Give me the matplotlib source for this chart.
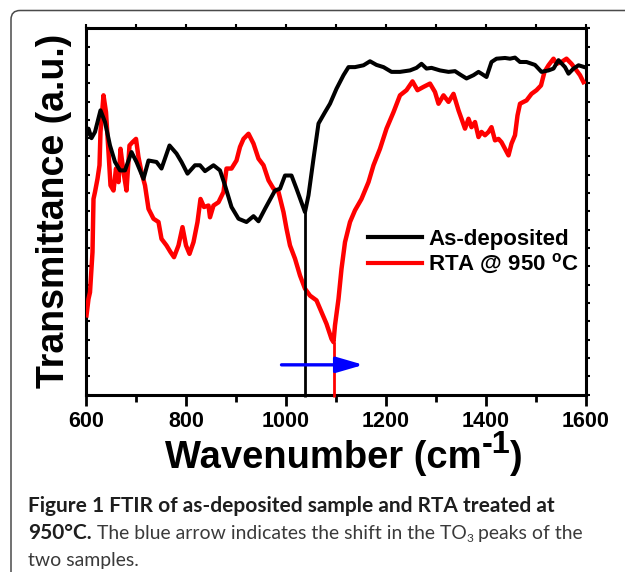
import matplotlib
matplotlib.use('Agg')
import matplotlib.pyplot as plt
from matplotlib.patches import FancyBboxPatch
from matplotlib.transforms import IdentityTransform
from matplotlib.lines import Line2D

W, H, DPI = 625, 572, 100

plt.rcParams['font.family'] = ['Liberation Sans', 'DejaVu Sans']
plt.rcParams['mathtext.fontset'] = 'custom'
plt.rcParams['mathtext.rm'] = 'Liberation Sans'
plt.rcParams['mathtext.bf'] = 'Liberation Sans:bold'

# ---------------- data ----------------
black_x = [601, 605, 611, 618, 629, 638, 648, 658, 668, 678, 691, 701, 715, 725, 741, 751,
           767, 781, 791, 803, 818, 828, 838, 855, 868, 878, 891, 905, 921, 935, 945, 958,
           978, 988, 998, 1011, 1021, 1038, 1045, 1055, 1065, 1078, 1088, 1101, 1115, 1125,
           1138, 1155, 1168, 1181, 1195, 1211, 1228, 1248, 1261, 1271, 1281, 1291, 1308,
           1325, 1338, 1348, 1361, 1375, 1385, 1391, 1401, 1411, 1421, 1438, 1448, 1458,
           1468, 1481, 1498, 1511, 1525, 1535, 1545, 1558, 1565, 1575, 1585, 1597]
black_y = [70.8, 72.6, 70.0, 71.7, 77.6, 74.4, 68.0, 63.5, 61.2, 61.2, 66.2, 63.5, 58.9, 63.9, 63.5, 61.7,
           68.0, 65.8, 63.5, 60.3, 62.6, 62.6, 61.0, 62.6, 61.2, 57.1, 51.2, 48.0, 47.1, 48.7, 47.3, 50.7,
           55.7, 56.2, 59.8, 59.8, 56.2, 49.8, 54.4, 64.4, 74.0, 77.1, 79.4, 83.5, 87.2, 89.4,
           89.4, 89.9, 91.0, 90.0, 89.4, 88.1, 88.1, 88.5, 89.2, 90.3, 89.0, 89.2, 88.5,
           88.1, 88.3, 87.4, 86.3, 87.2, 88.1, 87.6, 86.7, 90.8, 91.7, 91.9, 91.7, 92.0,
           90.8, 90.8, 90.0, 88.1, 88.5, 89.0, 91.3, 89.4, 87.6, 89.0, 89.9, 89.4]

red_x = [601, 605, 608, 613, 615, 618, 623, 627, 629, 635, 640, 645, 649, 655, 660, 665,
         669, 675, 681, 687, 693, 700, 705, 711, 718, 725, 735, 745, 751, 761, 769, 776,
         785, 793, 800, 807, 815, 823, 829, 836, 845, 848, 855, 865, 875, 881, 891, 901,
         908, 915, 925, 935, 945, 955, 965, 975, 985, 995, 1001, 1008, 1018, 1028, 1038,
         1048, 1061, 1071, 1081, 1091, 1095, 1098, 1105, 1111, 1118, 1128, 1138, 1151,
         1165, 1175, 1188, 1201, 1215, 1228, 1241, 1253, 1263, 1275, 1288, 1298, 1305,
         1315, 1325, 1335, 1345, 1351, 1358, 1365, 1371, 1378, 1385, 1391, 1398, 1405,
         1411, 1418, 1425, 1431, 1438, 1445, 1451, 1458, 1463, 1468, 1475, 1481, 1491,
         1501, 1510, 1517, 1525, 1535, 1541, 1551, 1561, 1571, 1581, 1588, 1595]
red_y = [21.6, 26.1, 27.9, 38.9, 53.4, 55.3, 58.9, 62.6, 71.7, 81.7, 77.1, 66.2, 57.1, 55.7, 61.7, 58.0,
         67.1, 60.7, 55.7, 68.0, 68.9, 69.8, 64.8, 60.7, 57.1, 50.7, 48.0, 47.1, 42.5, 40.7, 38.9, 37.5,
         40.7, 45.7, 40.7, 38.4, 41.6, 47.1, 53.4, 51.2, 51.6, 48.4, 51.6, 52.5, 55.3, 61.7, 61.7, 63.9,
         67.6, 69.8, 71.2, 68.5, 64.4, 62.6, 58.5, 56.2, 55.3, 49.8, 45.3, 40.7, 37.1, 32.5, 28.9,
         27.0, 25.7, 22.5, 19.3, 15.2, 14.3, 18.9, 26.1, 34.3, 41.6, 47.1, 50.3, 53.4,
         58.0, 62.6, 67.1, 72.6, 77.1, 81.7, 83.1, 85.5, 83.1, 84.0, 84.9, 82.6, 79.4,
         81.7, 79.9, 82.1, 77.6, 75.3, 72.6, 75.3, 73.0, 74.4, 70.3, 71.7, 70.8, 71.7,
         73.0, 69.4, 69.8, 68.9, 67.1, 65.3, 68.5, 70.8, 76.2, 79.4, 79.9, 80.3, 82.1,
         83.1, 84.4, 88.1, 89.9, 91.7, 90.3, 90.8, 91.7, 90.3, 88.5, 87.2, 85.3]

series_labels = ['As-deposited', r'RTA @ 950 $^{\mathbf{o}}$C']
series_colors = ['#000000', '#ff0000']
peak_x = [1038, 1095]          # TO3 peak positions
peak_y = [49.8, 14.3]
arrow_x = [991, 1155]          # blue shift arrow (start, end)
arrow_level = 8.1
xtick_values = [600, 800, 1000, 1200, 1400, 1600]
xtick_labels = ['600', '800', '1000', '1200', '1400', '1600']
ylabel_text = 'Transmittance (a.u.)'
xlabel_main, xlabel_sup, xlabel_end = 'Wavenumber (cm', '-1', ')'
caption_bold_1 = 'Figure 1 FTIR of as-deposited sample and RTA treated at'
caption_bold_2 = '950\u00b0C.'
caption_reg_2a = ' The blue arrow indicates the shift in the TO'
caption_sub = '3'
caption_reg_2b = ' peaks of the'
caption_reg_3 = 'two samples.'

# ---------------- figure ----------------
fig = plt.figure(figsize=(W / DPI, H / DPI), dpi=DPI)
renderer = fig.canvas.get_renderer()

# rounded frame around the figure + caption
frame = FancyBboxPatch((11, -30), 700, H - 10.5 + 30, boxstyle='round,pad=0,rounding_size=9',
                       transform=IdentityTransform(), facecolor='none', edgecolor='#4a4a4a', lw=1.1)
fig.add_artist(frame)

ax_l, ax_r, ax_t, ax_b = 86, 586, 28.3, 394.5
ax = fig.add_axes([ax_l / W, 1 - ax_b / H, (ax_r - ax_l) / W, (ax_b - ax_t) / H])

ax.plot(red_x, red_y, color=series_colors[1], lw=3.2, zorder=3, solid_joinstyle='round')
ax.plot(black_x, black_y, color=series_colors[0], lw=2.9, zorder=4, solid_joinstyle='round')
ax.vlines(peak_x, -0.8, peak_y, colors=series_colors, lw=2.0, zorder=4, clip_on=False)
ax.annotate('', xy=(arrow_x[1], arrow_level), xytext=(arrow_x[0], arrow_level),
            arrowprops=dict(arrowstyle='-|>,head_length=0.55,head_width=0.16', color='#0000ff',
                            lw=2.4, mutation_scale=30, shrinkA=0, shrinkB=0), zorder=5)

ax.set_xlim(600, 1600)
ax.set_ylim(0, 100)
ax.set_xticks(xtick_values)
ax.set_xticks(range(700, 1600, 200), minor=True)
ax.set_xticklabels(xtick_labels, fontsize=15.5, fontweight='bold')
ax.tick_params(axis='x', which='major', direction='out', length=8, width=2, pad=4)
ax.tick_params(axis='x', which='minor', direction='out', length=5, width=2)
ax.set_yticks(range(0, 101, 5))
ax.set_yticklabels([])
ax.tick_params(axis='y', direction='in', length=3, width=1.5)
for sp in ax.spines.values():
    sp.set_linewidth(2.2)

secx = ax.secondary_xaxis('top')
secx.set_xticks(range(600, 1601, 100))
secx.tick_params(direction='out', length=3, width=1.5, labeltop=False)
for sp in secx.spines.values():
    sp.set_visible(False)
secy = ax.secondary_yaxis('right')
secy.set_yticks(range(0, 101, 5))
secy.tick_params(direction='out', length=3, width=1.5, labelright=False)
for sp in secy.spines.values():
    sp.set_visible(False)

handles = [Line2D([], [], color=c, lw=3.0) for c in series_colors]
ax.legend(handles, series_labels, loc='center left',
          bbox_to_anchor=((368 - ax_l) / (ax_r - ax_l), (ax_b - 252.5) / (ax_b - ax_t)),
          frameon=False, borderpad=0, borderaxespad=0, handlelength=2.45,
          handletextpad=0.25, labelspacing=0.12, prop={'weight': 'bold', 'size': 16})

# y label
fig.text(64 / W, 1 - 211 / H, ylabel_text, rotation=90, rotation_mode='anchor',
         ha='center', va='baseline', fontsize=27, fontweight='bold')


def text_w(s, **kw):
    t1 = fig.text(0, 0, '|' + s + '|', **kw)
    t2 = fig.text(0, 0, '||', **kw)
    w = t1.get_window_extent(renderer).width - t2.get_window_extent(renderer).width
    t1.remove()
    t2.remove()
    return w


def run(x_px, base_top_px, pieces):
    x = x_px
    for s, kw, dy in pieces:
        fig.text(x / W, (H - base_top_px + dy) / H, s, ha='left', va='baseline', **kw)
        x += text_w(s, **kw)
    return x


# x label, composed with a large superscript (fitted to the reference width)
probe = (text_w(xlabel_main, fontsize=10, fontweight='bold')
         + text_w(xlabel_sup, fontsize=8.5, fontweight='bold')
         + text_w(xlabel_end, fontsize=10, fontweight='bold'))
xl_size = 10 * 359 / probe
xl_main = dict(fontsize=xl_size, fontweight='bold')
xl_sup = dict(fontsize=xl_size * 0.85, fontweight='bold')
run(165, 468, [(xlabel_main, xl_main, 0), (xlabel_sup, xl_sup, 15), (xlabel_end, xl_main, 0)])

# caption
cap_family = ['Lato', 'DejaVu Sans']
cap_size = 10 * 526 / text_w(caption_bold_1, family=cap_family, fontsize=10, fontweight='bold')
cb = dict(family=cap_family, fontsize=cap_size, fontweight='bold', color='#1e1e1e')
w_b2 = text_w(caption_bold_2, **cb)
reg_probe = (text_w(caption_reg_2a, family=cap_family, fontsize=10)
             + text_w(caption_sub, family=cap_family, fontsize=6.2)
             + text_w(caption_reg_2b, family=cap_family, fontsize=10))
reg_size = 10 * (556 - w_b2) / reg_probe
cr = dict(family=cap_family, fontsize=reg_size, fontweight='normal', color='#3a3a3a')
cs = dict(family=cap_family, fontsize=reg_size * 0.62, fontweight='normal', color='#3a3a3a')
run(28, 512, [(caption_bold_1, cb, 0)])
run(28, 539, [(caption_bold_2, cb, 0), (caption_reg_2a, cr, 0), (caption_sub, cs, -3),
              (caption_reg_2b, cr, 0)])
run(28, 566, [(caption_reg_3, cr, 0)])

fig.savefig('out.png', dpi=DPI)
